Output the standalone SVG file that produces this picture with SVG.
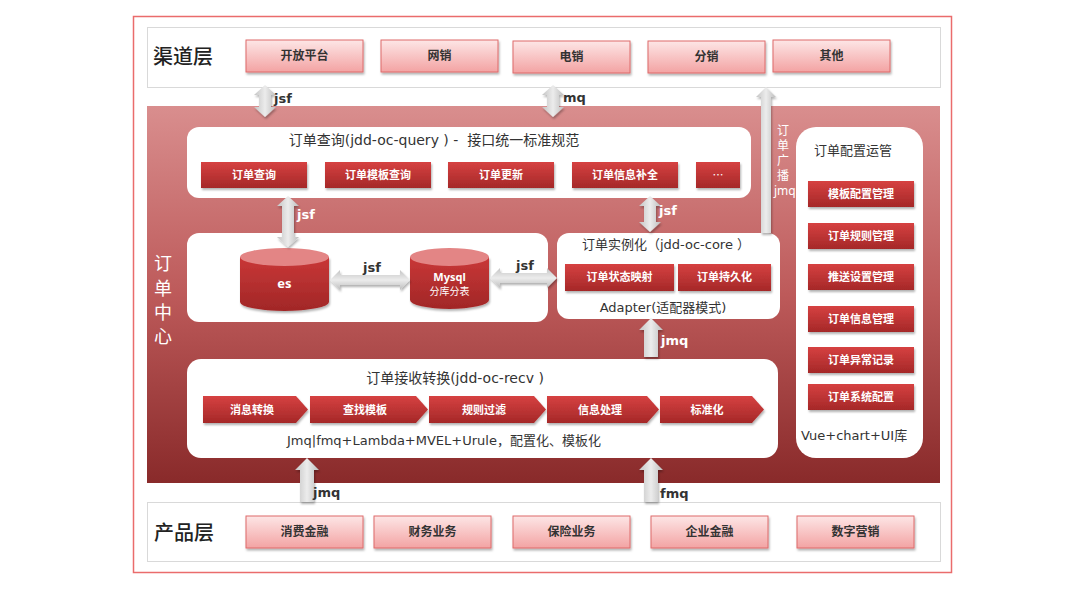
<svg xmlns="http://www.w3.org/2000/svg" width="1080" height="596" viewBox="0 0 1080 596">
<defs>
<linearGradient id="gMain" x1="0" y1="0" x2="0" y2="1">
<stop offset="0" stop-color="#d98e8e"/>
<stop offset="0.5" stop-color="#bd5a5a"/>
<stop offset="1" stop-color="#892a2a"/>
</linearGradient>
<linearGradient id="gPink" x1="0" y1="0" x2="0" y2="1">
<stop offset="0" stop-color="#fde6e6"/>
<stop offset="1" stop-color="#f3a3a3"/>
</linearGradient>
<linearGradient id="gBtn" x1="0" y1="0" x2="0" y2="1">
<stop offset="0" stop-color="#d64141"/>
<stop offset="1" stop-color="#a52828"/>
</linearGradient>
<linearGradient id="gCyl" x1="0" y1="0" x2="0" y2="1">
<stop offset="0" stop-color="#c93737"/>
<stop offset="1" stop-color="#a12727"/>
</linearGradient>
<linearGradient id="gArrV" x1="0" y1="0" x2="1" y2="0">
<stop offset="0" stop-color="#c4c4c4"/>
<stop offset="0.5" stop-color="#ececec"/>
<stop offset="1" stop-color="#bdbdbd"/>
</linearGradient>
<linearGradient id="gArrH" x1="0" y1="0" x2="0" y2="1">
<stop offset="0" stop-color="#c4c4c4"/>
<stop offset="0.5" stop-color="#ececec"/>
<stop offset="1" stop-color="#bdbdbd"/>
</linearGradient>
<filter id="sh" x="-10%" y="-20%" width="130%" height="160%">
<feDropShadow dx="1" dy="2" stdDeviation="1.2" flood-color="#000" flood-opacity="0.3"/>
</filter>
</defs>
<style>
.layer{fill:#fff;stroke:#d9d9d9;stroke-width:1}
.pink{fill:url(#gPink);stroke:#de6b6b;stroke-width:1;filter:url(#sh)}
.btn{fill:url(#gBtn);filter:url(#sh)}
.panel{fill:#fff}
.arrV{fill:url(#gArrV);filter:url(#sh)}
.arrH{fill:url(#gArrH);filter:url(#sh)}
text{font-family:"Noto Sans","Noto Sans CJK SC",sans-serif}
.lt{font-size:12px;font-weight:700;fill:#333;text-anchor:middle}
.bt{font-size:11px;font-weight:700;fill:#fff;text-anchor:middle}
.tt{font-family:"DejaVu Sans","Noto Sans CJK SC",sans-serif;font-size:13px;fill:#333;text-anchor:middle}
.tl{font-family:"DejaVu Sans","Noto Sans CJK SC",sans-serif;font-size:13px;fill:#333}
.big{font-size:20px;fill:#222;font-weight:500}
.lab{font-family:"DejaVu Sans","Noto Sans CJK SC",sans-serif;font-size:13px;font-weight:700}
.w{fill:#fff}
.d{fill:#333}
.sub{font-weight:400;font-size:10px}
</style>

<rect x="133.5" y="16.5" width="818" height="556" fill="#fff" stroke="#ea6c6c" stroke-width="1.5"/>

<g id="channel-layer">
<rect class="layer" x="147.5" y="27.5" width="793" height="60"/>
<text class="big" x="153" y="64">渠道层</text>
</g>
<g id="ch-open"><rect class="pink" x="246" y="40" width="117" height="32"/><text class="lt" x="304.5" y="60">开放平台</text></g>
<g id="ch-net"><rect class="pink" x="381" y="40" width="117" height="32"/><text class="lt" x="439.5" y="60">网销</text></g>
<g id="ch-tel"><rect class="pink" x="513" y="41" width="117" height="32"/><text class="lt" x="571.5" y="61">电销</text></g>
<g id="ch-dist"><rect class="pink" x="648" y="41" width="117" height="32"/><text class="lt" x="706.5" y="61">分销</text></g>
<g id="ch-other"><rect class="pink" x="773" y="40" width="117" height="32"/><text class="lt" x="831.5" y="60">其他</text></g>

<g id="order-center">
<rect x="147" y="106" width="793" height="377" fill="url(#gMain)"/>
<text class="w" font-size="18" text-anchor="middle" x="163" y="270">订</text>
<text class="w" font-size="18" text-anchor="middle" x="163" y="295">单</text>
<text class="w" font-size="18" text-anchor="middle" x="163" y="319">中</text>
<text class="w" font-size="18" text-anchor="middle" x="163" y="343">心</text>
</g>

<g id="product-layer">
<rect class="layer" x="147.5" y="502.5" width="793" height="59"/>
<text class="big" x="154" y="540">产品层</text>
</g>
<g id="pr-consumer"><rect class="pink" x="246" y="516" width="117" height="32"/><text class="lt" x="304.5" y="536">消费金融</text></g>
<g id="pr-finance"><rect class="pink" x="374" y="516" width="117" height="32"/><text class="lt" x="432.5" y="536">财务业务</text></g>
<g id="pr-insurance"><rect class="pink" x="513" y="516" width="117" height="32"/><text class="lt" x="571.5" y="536">保险业务</text></g>
<g id="pr-enterprise"><rect class="pink" x="651" y="516" width="117" height="32"/><text class="lt" x="709.5" y="536">企业金融</text></g>
<g id="pr-marketing"><rect class="pink" x="797" y="516" width="117" height="32"/><text class="lt" x="855.5" y="536">数字营销</text></g>

<g id="query">
<rect class="panel" x="187" y="127" width="564" height="71" rx="12"/>
<text class="tt" x="434" y="145" style="white-space:pre;font-size:14px">订单查询(jdd-oc-query ) -  接口统一标准规范</text>
<rect class="btn" x="201" y="162" width="106" height="26"/><text class="bt" x="254" y="179">订单查询</text>
<rect class="btn" x="325" y="162" width="106" height="26"/><text class="bt" x="378" y="179">订单模板查询</text>
<rect class="btn" x="448" y="162" width="106" height="26"/><text class="bt" x="501" y="179">订单更新</text>
<rect class="btn" x="572" y="162" width="106" height="26"/><text class="bt" x="625" y="179">订单信息补全</text>
<rect class="btn" x="696" y="162" width="44" height="26"/><text class="bt" x="718" y="179" style="font-family:'Noto Sans CJK SC',sans-serif;font-weight:400">…</text>
</g>

<g id="storage">
<rect class="panel" x="187" y="233" width="361" height="89" rx="12"/>
<g id="es">
<path d="M240,257 L240,302 A44.5,9 0 0 0 329,302 L329,257 Z" fill="url(#gCyl)" filter="url(#sh)"/>
<ellipse cx="284.5" cy="257" rx="44.5" ry="9" fill="#e38585"/>
<text class="bt" style="font-size:13px" x="284.5" y="288">es</text>
</g>
<g id="mysql">
<path d="M410,257 L410,300 A39.5,9 0 0 0 489,300 L489,257 Z" fill="url(#gCyl)" filter="url(#sh)"/>
<ellipse cx="449.5" cy="257" rx="39.5" ry="9" fill="#e38585"/>
<text class="bt" x="449.5" y="281">Mysql</text>
<text class="bt sub" x="449.5" y="295">分库分表</text>
</g>
</g>

<g id="core">
<rect class="panel" x="557" y="233" width="223" height="86" rx="12"/>
<text class="tt" x="666" y="249">订单实例化（jdd-oc-core ）</text>
<rect class="btn" x="565" y="264" width="109" height="27"/><text class="bt" x="619.5" y="281">订单状态映射</text>
<rect class="btn" x="678" y="264" width="93" height="27"/><text class="bt" x="724.5" y="281">订单持久化</text>
<text class="tt" x="663" y="312">Adapter(适配器模式)</text>
</g>

<g id="recv">
<rect class="panel" x="187" y="359" width="591" height="99" rx="14"/>
<text class="tt" x="455" y="383" style="font-size:14px">订单接收转换(jdd-oc-recv )</text>
<path class="btn" d="M203,396 L296,396 L308,409.5 L296,423 L203,423 Z"/><text class="bt" x="252" y="414">消息转换</text>
<path class="btn" d="M310,396 L416,396 L428,409.5 L416,423 L310,423 Z"/><text class="bt" x="365" y="414">查找模板</text>
<path class="btn" d="M429,396 L534,396 L546,409.5 L534,423 L429,423 Z"/><text class="bt" x="484" y="414">规则过滤</text>
<path class="btn" d="M547,396 L647,396 L659,409.5 L647,423 L547,423 Z"/><text class="bt" x="600" y="414">信息处理</text>
<path class="btn" d="M660,396 L752,396 L764,409.5 L752,423 L660,423 Z"/><text class="bt" x="707" y="414">标准化</text>
<text class="tl" x="287" y="445">Jmq|fmq+Lambda+MVEL+Urule，配置化、模板化</text>
</g>

<g id="config">
<rect class="panel" x="796" y="127" width="127" height="331" rx="20"/>
<text class="tt" x="853" y="155">订单配置运管</text>
<rect class="btn" x="808" y="181" width="106" height="26"/><text class="bt" x="861" y="198">模板配置管理</text>
<rect class="btn" x="808" y="223" width="106" height="26"/><text class="bt" x="861" y="240">订单规则管理</text>
<rect class="btn" x="808" y="264" width="106" height="26"/><text class="bt" x="861" y="281">推送设置管理</text>
<rect class="btn" x="808" y="306" width="106" height="26"/><text class="bt" x="861" y="323">订单信息管理</text>
<rect class="btn" x="808" y="347" width="106" height="26"/><text class="bt" x="861" y="364">订单异常记录</text>
<rect class="btn" x="808" y="384" width="106" height="26"/><text class="bt" x="861" y="401">订单系统配置</text>
<text class="tl" x="801" y="440">Vue+chart+UI库</text>
</g>

<g id="connectors">
<path class="arrV" d="M265,85 L276,95 L271,95 L271,107 L276,107 L265,117 L254,107 L259,107 L259,95 L254,95 Z"/>
<text class="lab d" x="274" y="103">jsf</text>
<path class="arrV" d="M553,85 L564,95 L559,95 L559,107 L564,107 L553,117 L542,107 L547,107 L547,95 L542,95 Z"/>
<text class="lab d" x="563" y="102">mq</text>
<path class="arrV" d="M766,87 L776,97 L771,97 L771,233 L761,233 L761,97 L756,97 Z"/>
<g class="w" font-size="12">
<text x="777" y="135">订</text>
<text x="777" y="150">单</text>
<text x="777" y="165">广</text>
<text x="777" y="180">播</text>
<text x="774" y="195">jmq</text>
</g>
<path class="arrV" d="M288,196 L299,206 L294,206 L294,237 L299,237 L288,247 L277,237 L282,237 L282,206 L277,206 Z"/>
<text class="lab w" x="297" y="219">jsf</text>
<path class="arrV" d="M650,196 L661,206 L656,206 L656,222 L661,222 L650,232 L639,222 L644,222 L644,206 L639,206 Z"/>
<text class="lab w" x="659" y="215">jsf</text>
<path class="arrH" d="M330,280 L340,270 L340,275 L400,275 L400,270 L410,280 L400,290 L400,285 L340,285 L340,290 Z"/>
<text class="lab d" x="363" y="272">jsf</text>
<path class="arrH" d="M490,278 L500,268 L500,273 L547,273 L547,268 L557,278 L547,288 L547,283 L500,283 L500,288 Z"/>
<text class="lab d" x="516" y="270">jsf</text>
<path class="arrV" d="M651,318 L663,330 L658,330 L658,357 L644,357 L644,330 L639,330 Z"/>
<text class="lab w" x="661" y="345">jmq</text>
<path class="arrV" d="M307,458 L319,470 L314,470 L314,502 L300,502 L300,470 L295,470 Z"/>
<text class="lab d" x="313" y="497">jmq</text>
<path class="arrV" d="M651,458 L663,470 L658,470 L658,502 L644,502 L644,470 L639,470 Z"/>
<text class="lab d" x="660" y="498">fmq</text>
</g>
</svg>
